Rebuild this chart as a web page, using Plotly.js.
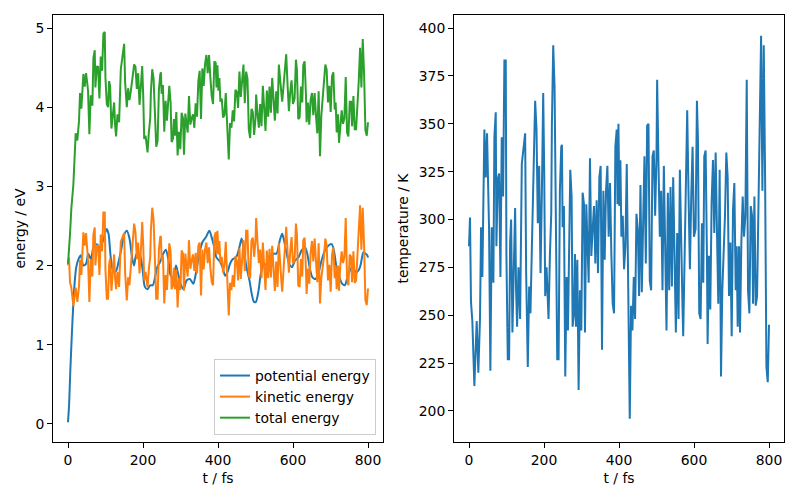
<!DOCTYPE html>
<html>
<head>
<meta charset="utf-8">
<script src="https://cdn.plot.ly/plotly-3.0.1.min.js"></script>
<style>html,body{margin:0;padding:0;background:#fff;}#chart{width:800px;height:500px;}</style>
</head>
<body>
<div id="chart"></div>
<script>
// time grid (fs) for temperature, kinetic and total energy
const time_fs = [0,2.7,5.3,8.9,14.3,20.5,24.9,29.4,32.1,35.6,
41,44.6,48.1,51.7,53.5,57,60.6,65,67.7,71.3,
73.1,76.6,80.2,83.8,87.3,90.9,94.4,98,99.8,103.4,
106.9,109.6,112.3,115.8,119.4,123,125.6,128.3,131.9,136.3,
140.8,145.2,149.7,152.4,156.8,160.4,163.9,167.5,172,176.4,
180,183.5,187.1,190.7,194.2,197.9,200.6,203.2,206.8,212.1,
215.7,219.3,221,224.6,228.2,231.7,235.3,238.9,242.4,246,
247.8,249.6,253.1,256.7,260.3,263.8,267.4,270.1,273.6,276.3,
279.9,282.5,285.2,288.8,292.3,295.9,299.5,303,306.6,309.3,
312.8,316.4,319.1,322.6,326.2,329.8,333.3,336.9,340.4,344,
347.6,351.1,354.7,358.3,361.8,365.4,369,372.5,376.1,379.6,
383.2,386.8,390.3,393.9,396,398.5,401,403.7,406.4,410,
413.5,417.1,420.7,423.3,426,428.7,432.2,435.8,439.4,442.9,
446.5,450.1,453.6,457.2,460.8,464.3,467.9,471.5,475,478.6,
482.1,485.7,489.3,492.8,496.4,500,501.7,505.3,508.9,512.4,
516,519.6,523.1,526.7,530.3,533.8,537.4,541,544.5,548.1,
551.6,555.2,558.8,562.3,565.9,569.5,571.2,574.8,578.4,581.9,
585.5,589.1,592.6,596.2,599.8,604.2,607.8,610.5,614,617.6,
621.2,624.7,627.4,631,634.5,636.3,639.9,643.4,647,650.6,
654.1,657.7,661.3,664.8,668.4,672,675.5,679.1,682.6,686.2,
689.8,693.3,696.9,700.5,704,707.6,711.2,713.8,716.5,720.1,
722.7,726.3,729.9,733.4,737,740.6,744.1,747.7,751.3,754.8,
757.5,761.1,764.6,768.2,771.7,775.3,778.9,782.4,786,789.6,
793.1,796.7,800];

const temperature_K = [286,301,257,247,213,247,220,249,296,270,
347,322,345,314,295,221,296,267,343,356,
286,321,324,270,343,312,383,383,281,227,
227,288,300,241,277,306,263,244,275,248,
329,338,345,272,223,265,251,284,326,362,
347,298,328,272,312,366,324,260,275,248,
281,303,349,391,369,286,227,227,315,338,
339,296,307,218,270,242,288,326,312,244,
251,282,244,279,211,263,242,314,308,241,
308,281,267,332,281,295,307,277,310,272,
322,328,232,315,279,315,328,291,319,282,
256,251,338,347,308,350,307,331,291,302,
274,286,329,286,248,196,255,242,270,248,
303,295,260,318,262,295,333,277,349,350,
268,263,333,336,302,333,373,329,291,315,
263,328,277,242,314,263,317,265,322,277,
241,293,248,326,279,253,239,277,329,357,
312,274,312,338,291,295,362,342,251,248,
298,267,333,336,281,235,281,253,309,331,
293,335,293,256,326,218,263,284,302,335,
322,260,288,239,305,319,263,286,244,286,
241,288,312,291,302,373,263,251,307,302,
256,312,255,260,298,342,396,315,391,322,
223,215,245];

const kinetic_eV = [2.00,2.10,1.79,1.72,1.49,1.72,1.54,1.74,2.07,1.88,
2.42,2.25,2.41,2.19,2.06,1.54,2.07,1.86,2.39,2.48,
2.00,2.24,2.26,1.88,2.39,2.18,2.67,2.67,1.96,1.58,
1.58,2.01,2.09,1.68,1.93,2.14,1.84,1.70,1.92,1.73,
2.30,2.36,2.41,1.90,1.56,1.85,1.75,1.98,2.28,2.53,
2.42,2.08,2.29,1.90,2.18,2.55,2.26,1.81,1.92,1.73,
1.96,2.11,2.44,2.73,2.58,2.00,1.58,1.58,2.20,2.36,
2.37,2.07,2.14,1.52,1.88,1.69,2.01,2.28,2.18,1.70,
1.75,1.97,1.70,1.95,1.47,1.84,1.69,2.19,2.15,1.68,
2.15,1.96,1.86,2.32,1.96,2.06,2.14,1.93,2.16,1.90,
2.25,2.29,1.62,2.20,1.95,2.20,2.29,2.03,2.23,1.97,
1.79,1.75,2.36,2.42,2.15,2.44,2.14,2.31,2.03,2.11,
1.91,2.00,2.30,2.00,1.73,1.37,1.78,1.69,1.88,1.73,
2.12,2.06,1.81,2.22,1.83,2.06,2.32,1.93,2.44,2.44,
1.87,1.84,2.32,2.35,2.11,2.32,2.60,2.30,2.03,2.20,
1.84,2.29,1.93,1.69,2.19,1.84,2.21,1.85,2.25,1.93,
1.68,2.05,1.73,2.28,1.95,1.77,1.67,1.93,2.30,2.49,
2.18,1.91,2.18,2.36,2.03,2.06,2.53,2.39,1.75,1.73,
2.08,1.86,2.32,2.35,1.96,1.64,1.96,1.77,2.16,2.31,
2.05,2.34,2.05,1.79,2.28,1.52,1.84,1.98,2.11,2.34,
2.25,1.81,2.01,1.67,2.13,2.23,1.84,2.00,1.70,2.00,
1.68,2.01,2.18,2.03,2.11,2.60,1.84,1.75,2.14,2.11,
1.79,2.18,1.78,1.81,2.08,2.39,2.76,2.20,2.73,2.25,
1.56,1.50,1.71];

const total_eV = [2.02,2.32,2.39,2.72,3.02,3.67,3.58,3.83,4.18,3.98,
4.42,4.26,4.43,4.29,4.20,3.66,4.15,4.02,4.62,4.72,
4.25,4.51,4.51,4.11,4.64,4.46,4.93,4.95,4.38,4.04,
4.00,4.33,4.27,3.73,3.89,4.06,3.77,3.63,3.91,3.81,
4.48,4.64,4.80,4.31,4.00,4.24,4.09,4.20,4.36,4.54,
4.51,4.23,4.43,4.03,4.26,4.52,4.14,3.60,3.64,3.43,
3.69,3.86,4.19,4.48,4.36,3.84,3.50,3.57,4.22,4.41,
4.44,4.17,4.28,3.69,4.08,3.83,4.08,4.27,4.06,3.56,
3.60,3.85,3.64,3.94,3.39,3.69,3.47,3.93,3.86,3.40,
3.92,3.77,3.68,4.14,3.78,3.86,3.91,3.74,4.05,3.88,
4.33,4.46,3.85,4.49,4.27,4.54,4.66,4.43,4.66,4.38,
4.14,4.04,4.58,4.56,4.25,4.53,4.21,4.37,4.07,4.11,
3.87,3.90,4.18,3.90,3.66,3.34,3.80,3.74,3.96,3.82,
4.22,4.19,3.99,4.45,4.13,4.37,4.54,4.05,4.45,4.36,
3.72,3.61,3.98,3.94,3.65,3.86,4.16,3.92,3.74,4.04,
3.76,4.27,3.93,3.70,4.21,3.88,4.26,3.93,4.37,4.08,
3.83,4.20,3.92,4.54,4.28,4.15,4.07,4.27,4.57,4.67,
4.28,3.95,4.19,4.34,4.04,4.11,4.60,4.47,3.85,3.87,
4.26,4.06,4.53,4.58,4.16,3.81,4.06,3.78,4.09,4.18,
3.90,4.18,3.89,3.67,4.20,3.38,3.89,4.08,4.26,4.54,
4.47,4.06,4.27,3.94,4.39,4.44,3.97,4.06,3.68,3.91,
3.55,3.83,3.96,3.79,3.86,4.38,3.68,3.63,4.07,4.07,
3.76,4.14,3.72,3.72,4.00,4.33,4.75,4.25,4.86,4.42,
3.71,3.64,3.81];

// potential energy is smooth: read on its own grid
const pot_time_fs = [0,3,6,10,14,18,22,28,34,41,
48,54,61,68,77,85,94,103,108,114,
121,128,135,143,149,157,164,171,176,183,
192,199,205,212,219,226,232,238,245,254,
261,268,274,281,288,293,300,308,316,325,
334,341,350,359,368,377,384,390,396,405,
412,419,425,432,439,448,457,463,469,476,
484,490,496,501,508,514,521,530,539,548,
556,565,571,576,583,590,597,605,614,623,
632,638,645,652,660,668,676,685,694,703,
709,716,724,731,738,745,752,759,768,775,
780,788,793,798,800];

const potential_eV = [0.02,0.25,0.65,1.10,1.50,1.80,1.98,2.08,2.13,2.00,
2.02,2.15,2.08,2.23,2.27,2.23,2.32,2.46,2.40,2.10,
1.92,1.93,2.05,2.23,2.38,2.44,2.34,2.10,2.00,2.15,
2.13,1.94,1.73,1.70,1.75,1.75,1.85,1.98,2.04,2.15,
2.20,2.06,1.87,1.85,2.00,1.91,1.77,1.70,1.81,1.83,
1.77,1.90,2.15,2.30,2.36,2.44,2.34,2.23,2.10,2.05,
1.98,1.87,1.91,2.02,2.08,2.10,2.23,2.34,2.19,1.98,
1.81,1.64,1.54,1.54,1.68,1.89,2.00,2.02,2.06,2.15,
2.15,2.32,2.40,2.32,2.15,2.02,1.98,2.06,2.10,2.19,
2.23,2.15,1.96,1.85,1.83,1.91,2.06,2.19,2.25,2.27,
2.19,1.98,1.85,1.77,1.75,1.85,1.94,1.98,1.91,1.94,
2.00,2.17,2.15,2.13,2.10];

const seriesNames = ['potential energy', 'kinetic energy', 'total energy'];
const xTicks = [0, 200, 400, 600, 800];

const C_BLUE = '#1f77b4', C_ORANGE = '#ff7f0e', C_GREEN = '#2ca02c';
const FONT = {family: 'DejaVu Sans', size: 13.9, color: '#000'};

const traces = [
  {x: pot_time_fs, y: potential_eV, name: seriesNames[0], mode: 'lines',
   line: {color: C_BLUE, width: 2, shape: 'spline', smoothing: 0.8}, xaxis: 'x', yaxis: 'y'},
  {x: time_fs, y: kinetic_eV, name: seriesNames[1], mode: 'lines',
   line: {color: C_ORANGE, width: 2}, xaxis: 'x', yaxis: 'y'},
  {x: time_fs, y: total_eV, name: seriesNames[2], mode: 'lines',
   line: {color: C_GREEN, width: 2}, xaxis: 'x', yaxis: 'y'},
  {x: time_fs, y: temperature_K, name: 'temperature', mode: 'lines', showlegend: false,
   line: {color: C_BLUE, width: 2}, xaxis: 'x2', yaxis: 'y2'}
];

const axisCommon = {
  showline: true, mirror: true, linecolor: '#000', linewidth: 1,
  ticks: 'outside', ticklen: 5, tickwidth: 1, tickcolor: '#000',
  showgrid: false, zeroline: false, tickfont: FONT, automargin: false
};

const layout = {
  width: 800, height: 500,
  margin: {l: 0, r: 0, t: 0, b: 0},
  paper_bgcolor: '#fff', plot_bgcolor: '#fff',
  font: FONT,
  showlegend: true,
  legend: {x: 0.47, y: 0.13, xanchor: 'right', yanchor: 'bottom',
           bordercolor: '#cccccc', borderwidth: 1, bgcolor: 'rgba(255,255,255,0.8)',
           font: FONT, itemwidth: 30, tracegroupgap: 0},
  xaxis: Object.assign({}, axisCommon, {domain: [0.06625, 0.47875], range: [-40, 840],
          tickvals: xTicks, anchor: 'y', title: {text: 't / fs', font: FONT, standoff: 6}}),
  yaxis: Object.assign({}, axisCommon, {domain: [0.116, 0.97], range: [-0.23, 5.165],
          tickvals: [0,1,2,3,4,5], anchor: 'x', title: {text: 'energy / eV', font: FONT, standoff: 6}}),
  xaxis2: Object.assign({}, axisCommon, {domain: [0.5675, 0.98], range: [-40, 840],
          tickvals: xTicks, anchor: 'y2', title: {text: 't / fs', font: FONT, standoff: 6}}),
  yaxis2: Object.assign({}, axisCommon, {domain: [0.116, 0.97], range: [183.8, 406.8],
          tickvals: [200,225,250,275,300,325,350,375,400], anchor: 'x2',
          title: {text: 'temperature / K', font: FONT, standoff: 6}})
};

Plotly.newPlot('chart', traces, layout, {staticPlot: true, displayModeBar: false});
</script>
</body>
</html>
